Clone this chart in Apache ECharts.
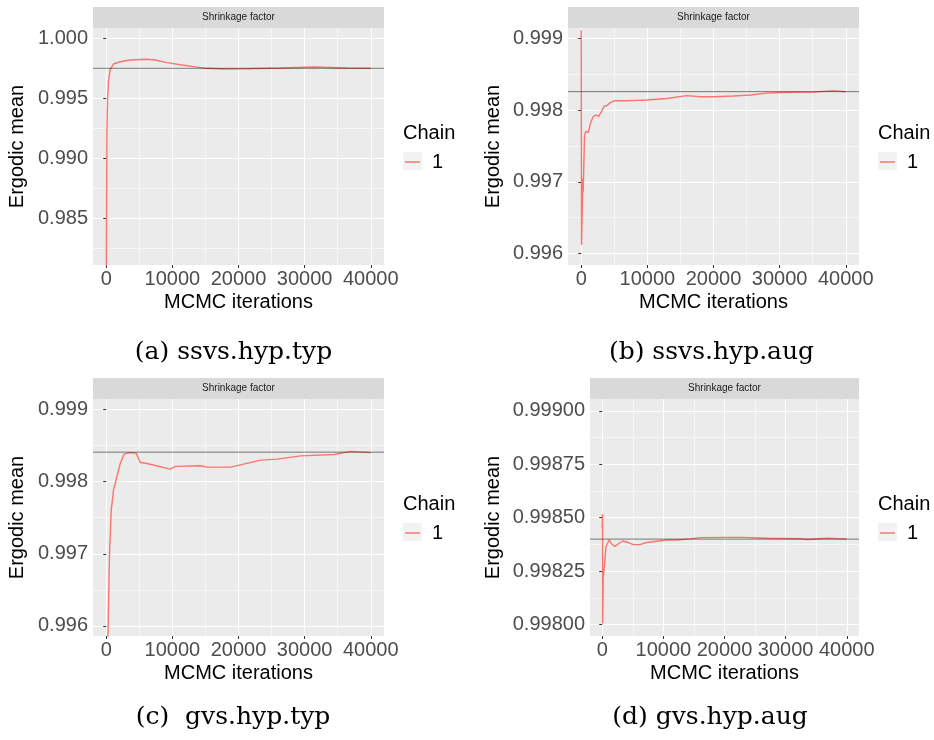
<!DOCTYPE html>
<html>
<head>
<meta charset="utf-8">
<script src="https://cdn.jsdelivr.net/npm/echarts@6.0.0/dist/echarts.min.js"></script>
<style>
  html, body { margin: 0; padding: 0; background: #fff; }
  #chart { width: 934px; height: 740px; }
</style>
</head>
<body>
<div id="chart"></div>
<script>
// ergodic means (iteration, mean)
var iterA = [0, 100, 200, 350, 600, 1100, 2100, 3600, 5200, 6200, 7400, 9200, 11200, 13200, 15200, 17700, 21300, 26300, 31400, 36400, 40000];
var meanA = [0.9790, 0.9921, 0.9949, 0.9965, 0.9974, 0.99786, 0.99805, 0.99819, 0.99824, 0.99825, 0.99819, 0.99797, 0.9978, 0.99764, 0.9975, 0.99744, 0.99747, 0.99753, 0.99761, 0.99753, 0.9975];
var hlineA = 0.9975;

var iterB = [0, 50, 250, 300, 500, 700, 1100, 1400, 1820, 2300, 2630, 3030, 3430, 3840, 4360, 5050, 6670, 8280, 9900, 12930, 15960, 17980, 20000, 23030, 25560, 28080, 30100, 35150, 38180, 40000];
var meanB = [0.99911, 0.99612, 0.99705, 0.99686, 0.99765, 0.99770, 0.99769, 0.99782, 0.99791, 0.99793, 0.99791, 0.99797, 0.99805, 0.99806, 0.99810, 0.99813, 0.99813, 0.998135, 0.99814, 0.99816, 0.99820, 0.998185, 0.998185, 0.998195, 0.99821, 0.998236, 0.998245, 0.99825, 0.99827, 0.998255];
var hlineB = 0.998256;

var iterC = [100, 257, 500, 757, 1110, 1615, 2120, 2724, 3636, 4545, 5150, 6160, 9700, 10450, 14240, 15250, 18780, 20300, 23330, 25850, 29390, 34440, 36960, 40000];
var meanC = [0.9950, 0.99586, 0.9970, 0.9976, 0.99788, 0.99807, 0.99825, 0.99838, 0.99840, 0.99839, 0.998264, 0.99825, 0.998171, 0.99821, 0.998218, 0.998199, 0.998199, 0.998231, 0.998296, 0.99831, 0.998356, 0.998375, 0.998417, 0.9984];
var hlineC = 0.998407;

var iterD = [0, 60, 70, 170, 390, 600, 820, 1150, 1530, 2070, 2620, 3330, 4260, 5080, 6170, 7260, 8900, 10540, 12180, 14360, 16000, 19860, 23140, 26960, 32400, 33500, 36800, 40000];
var meanD = [0.99845, 0.998517, 0.998005, 0.998222, 0.998284, 0.998362, 0.998377, 0.998396, 0.998377, 0.998366, 0.998377, 0.998391, 0.998384, 0.998374, 0.998374, 0.998384, 0.99839, 0.998396, 0.998396, 0.998401, 0.998407, 0.998408, 0.998408, 0.998404, 0.998402, 0.998398, 0.998404, 0.9984];
var hlineD = 0.9984;

// tick positions
var xTicks = [0, 10000, 20000, 30000, 40000];
var xMinor = [5000, 15000, 25000, 35000];
var yTicksA = [0.985, 0.990, 0.995, 1.000];
var yMinorA = [0.9825, 0.9875, 0.9925, 0.9975];
var yTicksB = [0.996, 0.997, 0.998, 0.999];
var yMinorB = [0.9965, 0.9975, 0.9985];
var yTicksD = [0.998, 0.99825, 0.9985, 0.99875, 0.999];
var yMinorD = [0.998125, 0.998375, 0.998625, 0.998875];

var captions = ['(a) ssvs.hyp.typ', '(b) ssvs.hyp.aug', '(c)  gvs.hyp.typ', '(d) gvs.hyp.aug'];

var FONT = '"Liberation Sans", Arial, sans-serif';
var RED = '#F8766D';
var X_MIN = -2000, X_MAX = 42000;

var panels = [
  { iter: iterA, mean: meanA, hline: hlineA, yMin: 0.98111, yMax: 1.00086, yTicks: yTicksA, yMinor: yMinorA, digits: 3,
    left: 93, top: 28, width: 291, nameGap: 66, legendX: 403, capX: 233.5, capY: 352 },
  { iter: iterB, mean: meanB, hline: hlineB, yMin: 0.99584, yMax: 0.999143, yTicks: yTicksB, yMinor: yMinorB, digits: 3,
    left: 568, top: 28, width: 291, nameGap: 65, legendX: 878, capX: 711.5, capY: 352 },
  { iter: iterC, mean: meanC, hline: hlineC, yMin: 0.995861, yMax: 0.999143, yTicks: yTicksB, yMinor: yMinorB, digits: 3,
    left: 93, top: 399, width: 291, nameGap: 66, legendX: 403, capX: 233, capY: 717 },
  { iter: iterD, mean: meanD, hline: hlineD, yMin: 0.997947, yMax: 0.999055, yTicks: yTicksD, yMinor: yMinorD, digits: 5,
    left: 590, top: 399, width: 269, nameGap: 87, legendX: 878, capX: 710, capY: 717 }
];
var PANEL_H = 237;

var grids = [], xAxes = [], yAxes = [], series = [], legends = [], graphics = [];

panels.forEach(function (p, i) {
  grids.push({
    left: p.left, top: p.top, width: p.width, height: PANEL_H,
    show: true, backgroundColor: '#EBEBEB', borderWidth: 0,
    outerBoundsMode: 'none'
  });

  // major x axis
  xAxes.push({
    gridIndex: i, type: 'value', min: X_MIN, max: X_MAX, position: 'bottom',
    axisLine: { show: false },
    axisTick: { show: true, length: 3, lineStyle: { color: '#333333', width: 1 }, customValues: xTicks },
    axisLabel: { customValues: xTicks, fontSize: 20, color: '#4D4D4D', fontFamily: FONT, margin: 4,
      formatter: function (v) { return String(v); } },
    splitLine: { show: true, customValues: xTicks, lineStyle: { color: '#FFFFFF', width: 1.1 } },
    name: 'MCMC iterations', nameLocation: 'middle', nameGap: 27,
    nameTextStyle: { fontSize: 20, color: '#000000', fontFamily: FONT }
  });
  // minor x grid lines
  xAxes.push({
    gridIndex: i, type: 'value', min: X_MIN, max: X_MAX,
    axisLine: { show: false },
    axisTick: { show: false, customValues: xMinor },
    axisLabel: { show: false, customValues: xMinor },
    splitLine: { show: true, customValues: xMinor, lineStyle: { color: '#FFFFFF', width: 0.55 } }
  });

  yAxes.push({
    gridIndex: i, type: 'value', min: p.yMin, max: p.yMax, position: 'left',
    axisLine: { show: false },
    axisTick: { show: true, length: 3, lineStyle: { color: '#333333', width: 1 }, customValues: p.yTicks },
    axisLabel: {
      customValues: p.yTicks, fontSize: 20, color: '#4D4D4D', fontFamily: FONT, margin: 5,
      formatter: (function (d) { return function (v) { return v.toFixed(d); }; })(p.digits)
    },
    splitLine: { show: true, customValues: p.yTicks, lineStyle: { color: '#FFFFFF', width: 1.1 } },
    name: 'Ergodic mean', nameLocation: 'middle', nameRotate: 90, nameGap: p.nameGap,
    nameTextStyle: { fontSize: 20, color: '#000000', fontFamily: FONT }
  });
  yAxes.push({
    gridIndex: i, type: 'value', min: p.yMin, max: p.yMax,
    axisLine: { show: false },
    axisTick: { show: false, customValues: p.yMinor },
    axisLabel: { show: false, customValues: p.yMinor },
    splitLine: { show: true, customValues: p.yMinor, lineStyle: { color: '#FFFFFF', width: 0.55 } }
  });

  var pts = p.iter.map(function (x, k) { return [x, p.mean[k]]; });
  series.push({
    type: 'line', name: '1', xAxisIndex: 2 * i, yAxisIndex: 2 * i,
    data: pts, showSymbol: false, symbol: 'none', clip: true, z: 2,
    lineStyle: { color: RED, width: 1.4 }, itemStyle: { color: RED },
    emphasis: { disabled: true }
  });
  // overall mean, drawn across the full panel like geom_hline
  series.push({
    type: 'line', name: 'mean', xAxisIndex: 2 * i, yAxisIndex: 2 * i,
    data: [[X_MIN, p.hline], [X_MAX, p.hline]], showSymbol: false, symbol: 'none', z: 3,
    lineStyle: { color: 'rgba(0,0,0,0.5)', width: 1 }, itemStyle: { color: '#000' },
    emphasis: { disabled: true }, silent: true
  });

  legends.push({
    data: ['1'], left: p.legendX + 2, top: p.top + 124, orient: 'vertical', padding: 0,
    icon: 'rect', itemWidth: 15, itemHeight: 1.5, selectedMode: false,
    textStyle: { fontSize: 20, color: '#000000', fontFamily: FONT, padding: [0, 0, 0, 7] }
  });

  // facet strip
  graphics.push({ type: 'rect', shape: { x: p.left, y: p.top - 21, width: p.width, height: 21 }, style: { fill: '#D9D9D9' } });
  graphics.push({ type: 'text', x: p.left + p.width / 2, y: p.top - 10.5,
    style: { text: 'Shrinkage factor', fontSize: 10, fontFamily: FONT, fill: '#1A1A1A',
      align: 'center', verticalAlign: 'middle', textAlign: 'center', textVerticalAlign: 'middle' } });
  // legend title and key background
  graphics.push({ type: 'text', x: p.legendX, y: p.top + 105,
    style: { text: 'Chain', fontSize: 20, fontFamily: FONT, fill: '#000000',
      align: 'left', verticalAlign: 'middle', textAlign: 'left', textVerticalAlign: 'middle' } });
  graphics.push({ type: 'rect', shape: { x: p.legendX, y: p.top + 124, width: 19, height: 18 }, style: { fill: '#F2F2F2' } });
  // sub-figure caption
  graphics.push({ type: 'text', x: p.capX, y: p.capY,
    style: { text: captions[i], fontSize: 25, fontFamily: '"DejaVu Serif", serif', fill: '#000000',
      align: 'center', verticalAlign: 'middle', textAlign: 'center', textVerticalAlign: 'middle' } });
});

var chart = echarts.init(document.getElementById('chart'));
chart.setOption({
  animation: false,
  backgroundColor: '#FFFFFF',
  grid: grids,
  xAxis: xAxes,
  yAxis: yAxes,
  legend: legends,
  series: series,
  graphic: { elements: graphics }
});
</script>
</body>
</html>
